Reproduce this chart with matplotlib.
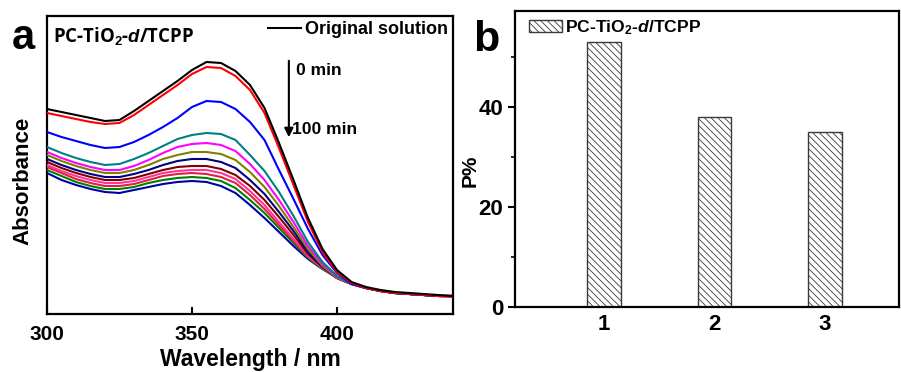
import matplotlib
matplotlib.use("Agg")
import matplotlib.pyplot as plt
import numpy as np

plt.rcParams['font.family'] = ['Liberation Sans', 'DejaVu Sans']
plt.rcParams['font.weight'] = 'bold'
plt.rcParams['mathtext.fontset'] = 'custom'
plt.rcParams['mathtext.rm'] = 'Liberation Sans:bold'
plt.rcParams['mathtext.it'] = 'Liberation Sans:italic:bold'
plt.rcParams['mathtext.bf'] = 'Liberation Sans:bold'
plt.rcParams['hatch.linewidth'] = 0.6

# ---------------- data: panel a (UV-vis spectra) ----------------
wavelength = [300, 305, 310, 315, 320, 325, 330, 335, 340, 345, 350, 355, 360, 365,
              370, 375, 380, 385, 390, 395, 400, 405, 410, 415, 420, 425, 430, 435, 440]

abs_original = [2.06, 2.03, 2.00, 1.97, 1.94, 1.95, 2.04, 2.14, 2.24, 2.34, 2.45, 2.53, 2.52, 2.44,
                2.30, 2.07, 1.72, 1.35, 0.97, 0.66, 0.45, 0.33, 0.28, 0.25, 0.23, 0.22, 0.21, 0.20, 0.19]
abs_0min = [2.02, 1.99, 1.96, 1.93, 1.91, 1.92, 2.00, 2.10, 2.20, 2.30, 2.41, 2.48, 2.47, 2.39,
            2.25, 2.02, 1.67, 1.30, 0.93, 0.63, 0.43, 0.32, 0.27, 0.24, 0.22, 0.21, 0.20, 0.19, 0.18]
abs_10min = [1.83, 1.78, 1.74, 1.70, 1.67, 1.68, 1.73, 1.80, 1.88, 1.97, 2.08, 2.14, 2.13, 2.06,
             1.93, 1.75, 1.45, 1.16, 0.86, 0.60, 0.42, 0.31, 0.27, 0.24, 0.22, 0.21, 0.20, 0.19, 0.19]
abs_20min = [1.68, 1.62, 1.57, 1.53, 1.50, 1.51, 1.56, 1.62, 1.69, 1.76, 1.80, 1.82, 1.81, 1.75,
             1.60, 1.44, 1.23, 0.99, 0.73, 0.53, 0.39, 0.31, 0.27, 0.24, 0.22, 0.21, 0.20, 0.19, 0.19]
abs_30min = [1.63, 1.57, 1.52, 1.48, 1.45, 1.45, 1.49, 1.55, 1.62, 1.68, 1.71, 1.72, 1.70, 1.64,
             1.51, 1.35, 1.15, 0.93, 0.69, 0.51, 0.38, 0.31, 0.27, 0.24, 0.22, 0.21, 0.20, 0.19, 0.19]
abs_40min = [1.60, 1.54, 1.49, 1.45, 1.42, 1.42, 1.45, 1.50, 1.56, 1.60, 1.63, 1.63, 1.61, 1.55,
             1.43, 1.28, 1.09, 0.88, 0.66, 0.49, 0.37, 0.31, 0.27, 0.24, 0.22, 0.21, 0.20, 0.19, 0.19]
abs_50min = [1.56, 1.50, 1.45, 1.41, 1.38, 1.38, 1.41, 1.45, 1.50, 1.54, 1.56, 1.56, 1.53, 1.47,
             1.35, 1.21, 1.03, 0.84, 0.63, 0.48, 0.37, 0.31, 0.27, 0.24, 0.22, 0.21, 0.20, 0.19, 0.19]
abs_60min = [1.53, 1.47, 1.42, 1.38, 1.35, 1.35, 1.37, 1.41, 1.45, 1.48, 1.49, 1.49, 1.46, 1.40,
             1.29, 1.15, 0.98, 0.80, 0.61, 0.48, 0.37, 0.31, 0.27, 0.24, 0.22, 0.21, 0.20, 0.19, 0.19]
abs_70min = [1.50, 1.44, 1.39, 1.35, 1.32, 1.32, 1.34, 1.38, 1.42, 1.44, 1.45, 1.45, 1.42, 1.36,
             1.24, 1.10, 0.93, 0.76, 0.59, 0.47, 0.37, 0.31, 0.27, 0.24, 0.22, 0.21, 0.20, 0.19, 0.19]
abs_80min = [1.48, 1.42, 1.36, 1.32, 1.29, 1.29, 1.31, 1.35, 1.39, 1.41, 1.42, 1.41, 1.38, 1.32,
             1.20, 1.06, 0.90, 0.74, 0.58, 0.47, 0.37, 0.31, 0.27, 0.24, 0.22, 0.21, 0.20, 0.19, 0.19]
abs_90min = [1.45, 1.39, 1.33, 1.29, 1.26, 1.26, 1.28, 1.32, 1.35, 1.37, 1.38, 1.37, 1.34, 1.27,
             1.15, 1.02, 0.87, 0.72, 0.57, 0.46, 0.37, 0.31, 0.27, 0.24, 0.22, 0.21, 0.20, 0.19, 0.19]
abs_100min = [1.42, 1.35, 1.30, 1.26, 1.23, 1.22, 1.25, 1.28, 1.31, 1.33, 1.34, 1.33, 1.29, 1.22,
              1.10, 0.97, 0.83, 0.69, 0.56, 0.46, 0.38, 0.32, 0.27, 0.24, 0.22, 0.21, 0.20, 0.19, 0.19]

spectra = [abs_original, abs_0min, abs_10min, abs_20min, abs_30min, abs_40min, abs_50min,
           abs_60min, abs_70min, abs_80min, abs_90min, abs_100min]
spectra_colors = ['#000000', '#ff0000', '#0000ff', '#008080', '#ff00ff', '#808000',
                  '#000080', '#800000', '#ff3399', '#e0203c', '#008000', '#0000a8']

# ---------------- data: panel b (bars) ----------------
bar_categories = [1, 2, 3]
bar_values = [53, 38, 35]

fig = plt.figure(figsize=(9.01, 3.72), dpi=100)

# ---------------- panel a ----------------
axa = fig.add_axes([47/901, 1-314/372, 406/901, 298/372])
for i, (y, c) in enumerate(zip(spectra, spectra_colors)):
    axa.plot(wavelength, y, color=c, lw=1.5, solid_joinstyle='round',
             label='Original solution' if i == 0 else None, zorder=20-i)
axa.set_xlim(300, 440)
axa.set_ylim(0.01, 2.99)
axa.set_xticks([300, 350, 400])
axa.set_yticks([])
axa.tick_params(axis='x', direction='in', length=5, width=1.5, labelsize=15, pad=8)
for s in axa.spines.values():
    s.set_linewidth(1.6)
axa.set_xlabel('Wavelength / nm', fontsize=16.5, fontweight='bold', labelpad=3)
axa.set_ylabel('Absorbance', fontsize=16, fontweight='bold')
axa.yaxis.set_label_coords(-0.034, 0.446)
axa.text(0.015, 0.97, 'PC-TiO$_2$-$d$/TCPP', transform=axa.transAxes, fontsize=13.4,
         fontweight='bold', ha='left', va='top', family=['Open Sans', 'DejaVu Sans'])
leg = axa.legend(loc='upper right', frameon=False, fontsize=13, handlelength=1.8,
                 handletextpad=0.22, borderaxespad=0.1, borderpad=0.2)
axa.annotate('', xy=(383.4, 1.75), xytext=(383.4, 2.57),
             arrowprops=dict(arrowstyle='-|>', color='black', lw=1.5, mutation_scale=13))
axa.text(386.0, 2.45, '0 min', fontsize=12.6, fontweight='bold', va='center', ha='left')
axa.text(384.4, 1.86, '100 min', fontsize=12.6, fontweight='bold', va='center', ha='left')

# ---------------- panel b ----------------
axb = fig.add_axes([515/901, 1-307/372, 384/901, 296/372])
axb.bar(bar_categories, bar_values, width=0.3, facecolor='white', edgecolor='#3a3a3a',
        hatch='\\\\\\\\\\', linewidth=1.0, label='PC-TiO$_2$-$d$/TCPP')
axb.set_xlim(0.195, 3.67)
axb.set_ylim(0, 59.2)
axb.set_xticks(bar_categories)
axb.set_xticklabels([str(c) for c in bar_categories])
axb.set_yticks([0, 20, 40])
axb.set_yticks([10, 30, 50], minor=True)
axb.tick_params(axis='x', length=0, labelsize=16, pad=5)
axb.tick_params(axis='y', which='major', direction='out', length=5, width=1.5, labelsize=16)
axb.tick_params(axis='y', which='minor', direction='out', length=3, width=1.2)
for s in axb.spines.values():
    s.set_linewidth(1.6)
axb.set_ylabel('P%', fontsize=15, fontweight='bold')
axb.yaxis.set_label_coords(-0.091, 0.46)
axb.legend(loc='upper left', bbox_to_anchor=(0.018, 1.0), frameon=False, fontsize=12.6,
           handlelength=1.9, handleheight=0.63, handletextpad=0.17,
           borderaxespad=0.2, borderpad=0.2)

fig.text(12/901, 1-49/372, 'a', fontsize=30, fontweight='bold', ha='left', va='baseline')
fig.text(473/901, 1-51/372, 'b', fontsize=31, fontweight='bold', ha='left', va='baseline')

fig.savefig('out.png', dpi=100)
